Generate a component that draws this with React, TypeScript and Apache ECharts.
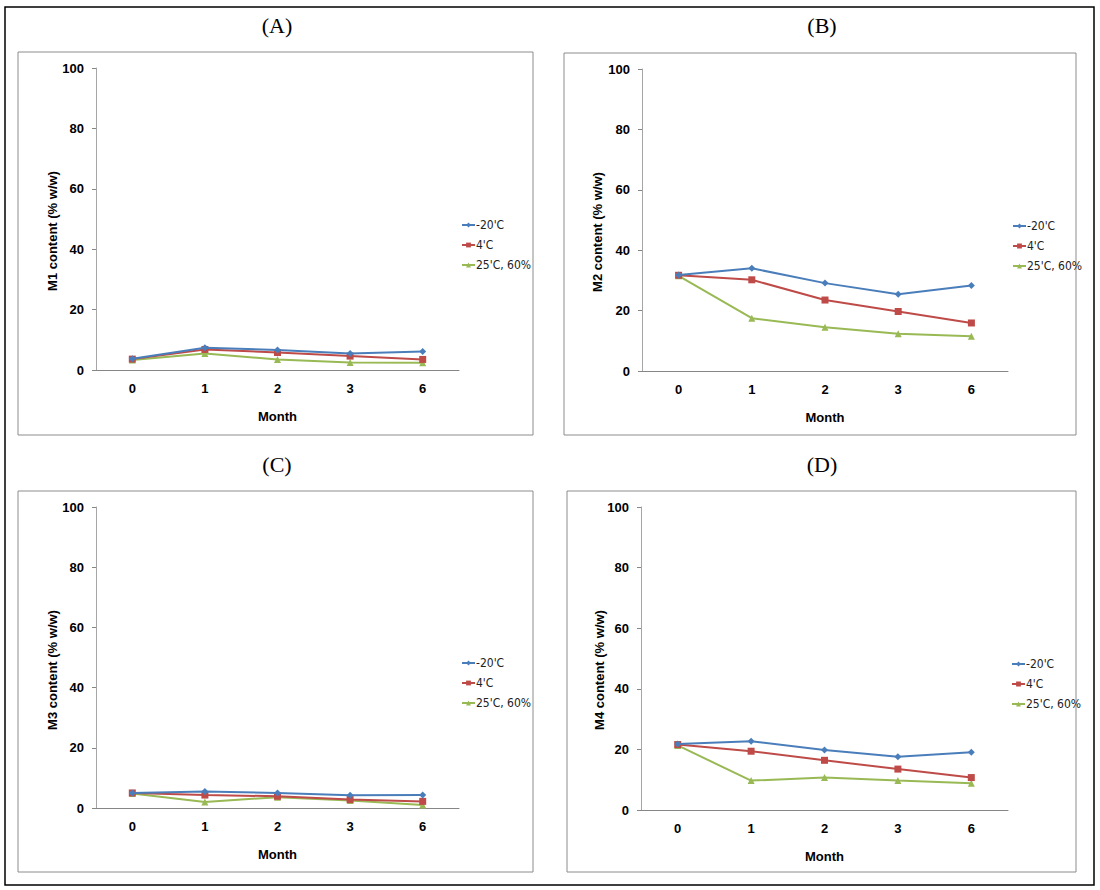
import React, { useEffect, useRef } from "react";
import * as echarts from "echarts";

const months = ["0", "1", "2", "3", "6"];
const seriesNames = ["-20'C", "4'C", "25'C, 60%"];
const yTicks = [0, 20, 40, 60, 80, 100];

// Panel A: M1
const m1Minus20 = [3.7, 7.4, 6.6, 5.5, 6.1];
const m1Plus4 = [3.6, 6.8, 5.8, 4.6, 3.5];
const m1Plus25 = [3.3, 5.5, 3.5, 2.5, 2.4];
// Panel B: M2
const m2Minus20 = [31.8, 34.0, 29.1, 25.4, 28.3];
const m2Plus4 = [31.7, 30.2, 23.5, 19.7, 15.9];
const m2Plus25 = [31.5, 17.5, 14.5, 12.3, 11.5];
// Panel C: M3
const m3Minus20 = [5.0, 5.5, 5.0, 4.2, 4.3];
const m3Plus4 = [5.0, 4.3, 3.9, 2.8, 2.2];
const m3Plus25 = [4.8, 2.0, 3.6, 2.5, 1.0];
// Panel D: M4
const m4Minus20 = [21.8, 22.7, 19.8, 17.6, 19.1];
const m4Plus4 = [21.6, 19.4, 16.4, 13.5, 10.7];
const m4Plus25 = [21.3, 9.7, 10.7, 9.7, 8.8];

const panelTitles = ["(A)", "(B)", "(C)", "(D)"];
const yNames = ["M1 content (% w/w)", "M2 content (% w/w)", "M3 content (% w/w)", "M4 content (% w/w)"];
const xName = "Month";

const COLORS = ["#4A7EBB", "#BE4B48", "#98B954"];
const SYMBOLS = ["diamond", "rect", "triangle"];

export default function App() {
  const ref = useRef<HTMLDivElement>(null);

  useEffect(() => {
    if (!ref.current) return;
    const chart = echarts.init(ref.current, undefined, { renderer: "svg" });

    const panelData = [
      [m1Minus20, m1Plus4, m1Plus25],
      [m2Minus20, m2Plus4, m2Plus25],
      [m3Minus20, m3Plus4, m3Plus25],
      [m4Minus20, m4Plus4, m4Plus25],
    ];

    const grids = [
      { left: 96, top: 68, width: 363, height: 302 },
      { left: 642, top: 69, width: 366, height: 302 },
      { left: 96, top: 507, width: 363, height: 301 },
      { left: 641, top: 507, width: 367, height: 303 },
    ];
    const boxes = [
      { x: 18, y: 52, w: 515, h: 383 },
      { x: 564, y: 53, w: 512, h: 382 },
      { x: 18, y: 491, w: 515, h: 381 },
      { x: 567, y: 491, w: 509, h: 381 },
    ];
    const titlePos = [
      [277, 25],
      [822, 25],
      [277, 464],
      [822, 464],
    ];
    const yNamePos = [
      [52, 231],
      [597, 232],
      [52, 670],
      [599, 670],
    ];
    const legendPos = [
      [456, 214],
      [1007, 215],
      [456, 652],
      [1006, 653],
    ];

    const tickFont = {
      fontFamily: "'Liberation Sans', Arial, sans-serif",
      fontWeight: "bold" as const,
      fontSize: 13,
      color: "#000",
    };

    const xAxes = grids.map((_, i) => ({
      type: "category",
      gridIndex: i,
      data: months,
      boundaryGap: true,
      axisLine: { show: true, lineStyle: { color: "#868686", width: 1 } },
      axisTick: { show: false },
      axisLabel: { ...tickFont, margin: 12 },
      name: xName,
      nameLocation: "middle",
      nameGap: 40,
      nameTextStyle: { ...tickFont },
      splitLine: { show: false },
    }));

    const yAxes = grids.map((_, i) => ({
      type: "value",
      gridIndex: i,
      min: 0,
      max: 100,
      interval: 20,
      axisLine: { show: true, lineStyle: { color: "#A6A6A6", width: 1 } },
      axisTick: { show: true, length: 4, lineStyle: { color: "#868686" } },
      axisLabel: { ...tickFont, margin: 12 },
      splitLine: { show: false },
    }));

    const series: any[] = [];
    panelData.forEach((arrs, p) => {
      arrs.forEach((vals, k) => {
        series.push({
          type: "line",
          name: seriesNames[k],
          xAxisIndex: p,
          yAxisIndex: p,
          data: vals,
          symbol: SYMBOLS[k],
          symbolSize: 7,
          color: COLORS[k],
          lineStyle: { color: COLORS[k], width: 2 },
          itemStyle: { color: COLORS[k] },
          z: 5 - k,
        });
      });
    });

    const legends = legendPos.map(([l, t]) => ({
      data: seriesNames,
      orient: "vertical",
      left: l,
      top: t,
      itemWidth: 13,
      itemHeight: 6,
      itemGap: 8,
      selectedMode: false,
      textStyle: {
        fontFamily: "'Liberation Sans Narrow', 'DejaVu Sans Condensed', 'Liberation Sans', Arial, sans-serif",
        fontSize: 12,
        color: "#222",
        padding: [0, 0, 0, -4],
      },
    }));

    const graphics: any[] = [
      {
        type: "rect",
        shape: { x: 5, y: 7, width: 1089, height: 878 },
        style: { fill: "none", stroke: "#000", lineWidth: 1.5 },
        silent: true,
        z: -10,
      },
    ];
    boxes.forEach((b) => {
      graphics.push({
        type: "rect",
        shape: { x: b.x, y: b.y, width: b.w, height: b.h },
        style: { fill: "#fff", stroke: "#8C8C8C", lineWidth: 1 },
        silent: true,
        z: -9,
      });
    });
    titlePos.forEach(([x, y], i) => {
      graphics.push({
        type: "text",
        x,
        y,
        style: {
          text: panelTitles[i],
          align: "center",
          verticalAlign: "middle",
          font: "22px 'Liberation Serif', 'DejaVu Serif', serif",
          fill: "#000",
        },
      });
    });
    yNamePos.forEach(([x, y], i) => {
      graphics.push({
        type: "text",
        x,
        y,
        rotation: Math.PI / 2,
        style: {
          text: yNames[i],
          align: "center",
          verticalAlign: "middle",
          font: "bold 13px 'Liberation Sans', Arial, sans-serif",
          fill: "#000",
        },
      });
    });

    chart.setOption({
      animation: false,
      backgroundColor: "#fff",
      grid: grids.map((g) => ({ ...g, containLabel: false })),
      xAxis: xAxes,
      yAxis: yAxes,
      legend: legends,
      series,
      graphic: { elements: graphics },
    });

    return () => {
      chart.dispose();
    };
  }, []);

  return (
    <div
      ref={ref}
      style={{ position: "absolute", left: 0, top: 0, width: 1100, height: 890 }}
    />
  );
}
